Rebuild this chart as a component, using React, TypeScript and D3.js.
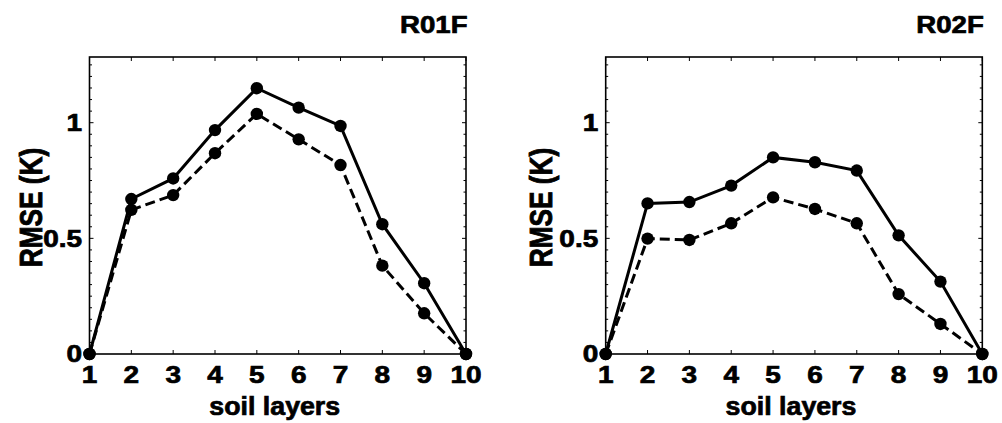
import React from "react";
import * as d3 from "d3";

// Soil layer index along the x axis
const layers = [1, 2, 3, 4, 5, 6, 7, 8, 9, 10];

// RMSE (K) per layer, R01F experiment
const r01fSolid = [0, 0.67, 0.759, 0.968, 1.149, 1.065, 0.986, 0.561, 0.306, 0];
const r01fDashed = [0, 0.623, 0.687, 0.868, 1.038, 0.928, 0.817, 0.382, 0.176, 0];

// RMSE (K) per layer, R02F experiment
const r02fSolid = [0, 0.651, 0.657, 0.728, 0.85, 0.829, 0.793, 0.513, 0.313, 0];
const r02fDashed = [0, 0.499, 0.493, 0.565, 0.677, 0.627, 0.565, 0.259, 0.13, 0];

const yMajorTicks = [0, 0.5, 1];
const yTickLabels = ["0", "0.5", "1"];
const panelTitles = ["R01F", "R02F"];
const xLabel = "soil layers";
const yLabel = "RMSE (K)";

const W = 1002;
const H = 423;
const FONT = "'Liberation Sans', Arial, Helvetica, sans-serif";

type PanelProps = {
  title: string;
  left: number;
  right: number;
  solid: number[];
  dashed: number[];
  yLabelX: number;
};

const top = 57;
const bottom = 354;

// heavy bold text style
const textStyle = {
  fontFamily: FONT,
  fontWeight: "bold" as const,
  stroke: "#000",
  strokeWidth: 0.7,
  fill: "#000",
};

function Panel({ title, left, right, solid, dashed, yLabelX }: PanelProps) {
  const x = d3.scaleLinear().domain([1, 10]).range([left, right]);
  const y = d3.scaleLinear().domain([0, 1.284]).range([bottom, top]);

  const line = d3
    .line<number>()
    .x((_, i) => x(layers[i]))
    .y((d) => y(d));

  const minor = d3.range(0, 1.2801, 0.05).map((v) => Math.round(v * 100) / 100);
  const cx = (left + right) / 2;
  const sx = 1.19;

  return (
    <g>
      {/* plot frame */}
      <rect
        x={left}
        y={top}
        width={right - left}
        height={bottom - top}
        fill="none"
        stroke="#000"
        strokeWidth={1.6}
      />
      {/* x ticks, bottom and top, pointing inward */}
      {layers.map((l) => (
        <g key={"xt" + l}>
          <line x1={x(l)} x2={x(l)} y1={bottom} y2={bottom - 4} stroke="#000" strokeWidth={1} />
          <line x1={x(l)} x2={x(l)} y1={top} y2={top + 4} stroke="#000" strokeWidth={1} />
        </g>
      ))}
      {/* y minor ticks both sides */}
      {minor.map((v) => {
        const major = yMajorTicks.some((m) => Math.abs(m - v) < 1e-6);
        const len = major ? 4 : 2.5;
        return (
          <g key={"ym" + v}>
            <line x1={left} x2={left + len} y1={y(v)} y2={y(v)} stroke="#000" strokeWidth={1} />
            <line x1={right} x2={right - len} y1={y(v)} y2={y(v)} stroke="#000" strokeWidth={1} />
          </g>
        );
      })}
      {/* series lines */}
      <path d={line(dashed) ?? ""} fill="none" stroke="#000" strokeWidth={3} strokeDasharray="10,5" />
      <path d={line(solid) ?? ""} fill="none" stroke="#000" strokeWidth={3} />
      {dashed.map((v, i) => (
        <circle key={"dm" + i} cx={x(layers[i])} cy={y(v)} r={6.2} fill="#000" />
      ))}
      {solid.map((v, i) => (
        <circle key={"sm" + i} cx={x(layers[i])} cy={y(v)} r={6.2} fill="#000" />
      ))}
      {/* x tick labels */}
      {layers.map((l) => (
        <text
          key={"xl" + l}
          transform={`translate(${x(l)},383.3) scale(${sx},1)`}
          textAnchor="middle"
          fontSize={23.5}
          {...textStyle}
        >
          {l}
        </text>
      ))}
      {/* y tick labels */}
      {yMajorTicks.map((v, i) => (
        <text
          key={"yl" + v}
          transform={`translate(${left - 7.5},${y(v) + 8.4}) scale(${sx},1)`}
          textAnchor="end"
          fontSize={23.5}
          {...textStyle}
        >
          {yTickLabels[i]}
        </text>
      ))}
      {/* axis labels */}
      <text
        transform={`translate(${cx - 3},415) scale(1.07,1)`}
        textAnchor="middle"
        fontSize={25}
        {...textStyle}
      >
        {xLabel}
      </text>
      <text
        transform={`translate(${yLabelX},${(top + bottom) / 2 + 2}) rotate(-90) scale(1.07,1.25)`}
        textAnchor="middle"
        fontSize={24.5}
        {...textStyle}
      >
        {yLabel}
      </text>
      {/* panel title */}
      <text
        transform={`translate(${right + 1.5},33.3) scale(1.15,1)`}
        textAnchor="end"
        fontSize={24}
        {...textStyle}
      >
        {title}
      </text>
    </g>
  );
}

export default function App() {
  return (
    <svg
      width={W}
      height={H}
      viewBox={`0 0 ${W} ${H}`}
      style={{ position: "absolute", left: 0, top: 0, background: "#fff" }}
    >
      <rect x={0} y={0} width={W} height={H} fill="#fff" />
      <Panel
        title={panelTitles[0]}
        left={89.5}
        right={466}
        solid={r01fSolid}
        dashed={r01fDashed}
        yLabelX={41.5}
      />
      <Panel
        title={panelTitles[1]}
        left={605.7}
        right={982.3}
        solid={r02fSolid}
        dashed={r02fDashed}
        yLabelX={551.5}
      />
    </svg>
  );
}
